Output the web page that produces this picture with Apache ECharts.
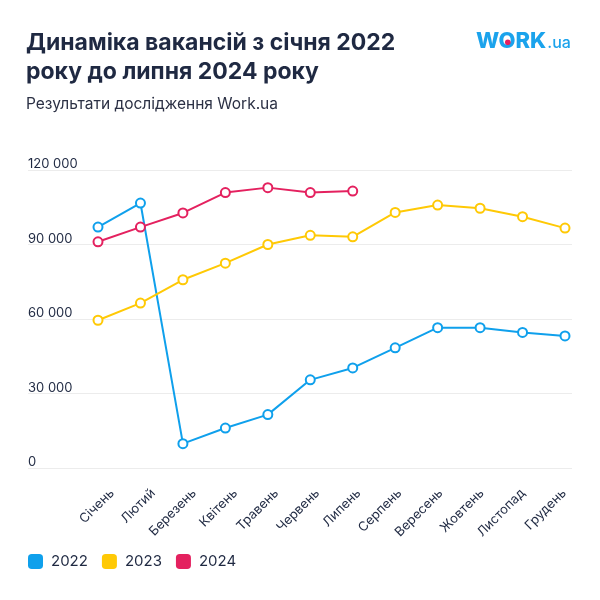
<!DOCTYPE html>
<html>
<head>
<meta charset="utf-8">
<script src="https://cdn.jsdelivr.net/npm/echarts@6/dist/echarts.min.js"></script>
<style>
html,body{margin:0;padding:0;background:#fff;}
#c{width:600px;height:600px;}
</style>
</head>
<body>
<div id="c"></div>
<script>
const months = ['Січень','Лютий','Березень','Квітень','Травень','Червень','Липень','Серпень','Вересень','Жовтень','Листопад','Грудень'];
const seriesNames = ['2022','2023','2024'];
const values2022 = [97000,106700,9800,16100,21500,35500,40300,48400,56500,56500,54600,53200];
const values2023 = [59500,66400,75800,82500,90000,93700,93100,102900,105900,104600,101200,96600];
const values2024 = [91100,97000,102700,110900,112900,110900,111500];
const colors = ['#0fa0ec','#ffc905','#e4215f'];
const yTicks = {min:0, max:120000, interval:30000};

const FONT = 'Inter';
const DARK = '#1f2942';
const chart = echarts.init(document.getElementById('c'));
const seriesData = [values2022, values2023, values2024];

function fmt(v){ return String(v).replace(/\B(?=(\d{3})+(?!\d))/g,' '); }

// locate the centre of the "O" in the logo text
const LOGO_X = 476, LOGO_FONT = '800 22px Inter';
const mctx = document.createElement('canvas').getContext('2d');
mctx.font = LOGO_FONT;
const dotX = LOGO_X + mctx.measureText('W').width + mctx.measureText('O').width / 2;

chart.setOption({
  backgroundColor:'#fff',
  animation:false,
  textStyle:{fontFamily:FONT},
  title:{
    left:26, top:29, padding:0,
    text:'Динаміка вакансій з січня 2022\nроку до липня 2024 року',
    textStyle:{fontFamily:FONT,fontSize:23,fontWeight:'bold',color:DARK,lineHeight:29},
    subtext:'Результати дослідження Work.ua',
    subtextStyle:{fontFamily:FONT,fontSize:15.5,color:'#2b3044'},
    itemGap:9
  },
  graphic:[
    {type:'text', left:LOGO_X, top:30, style:{
      rich:{a:{fontFamily:FONT,fontSize:22,fontWeight:800,fill:'#1ba3ec'},
            b:{fontFamily:FONT,fontSize:16,fontWeight:500,fill:'#1ba3ec',padding:[5,0,0,1]}},
      text:'{a|WORK}{b|.ua}'}},
    {type:'circle', shape:{cx:dotX, cy:42.2, r:2.8}, style:{fill:'#e4215f'}}
  ],
  legend:{
    left:28, top:554, padding:0, icon:'roundRect', itemWidth:15, itemHeight:15, itemGap:14,
    textStyle:{fontFamily:FONT,fontSize:15,color:DARK,padding:[0,0,0,3]},
    data:seriesNames.map((n,i)=>({name:n,itemStyle:{color:colors[i],borderWidth:0}}))
  },
  grid:[
    {left:28,right:28,top:170,bottom:132},
    {left:98,right:35,top:170,bottom:132},
    {left:112,right:36,top:170,bottom:132}
  ],
  xAxis:[
    {gridIndex:0,type:'value',show:false},
    {gridIndex:1,type:'category',boundaryGap:false,data:months,
     axisLine:{show:false},axisTick:{show:false},axisLabel:{show:false}},
    {gridIndex:2,type:'category',boundaryGap:false,data:months,
     axisLine:{show:false},axisTick:{show:false},
     axisLabel:{rotate:45,margin:23,fontFamily:FONT,fontSize:13,color:DARK}}
  ],
  yAxis:[
    {gridIndex:0,type:'value',min:yTicks.min,max:yTicks.max,interval:yTicks.interval,
     axisLine:{show:false},axisTick:{show:false},
     splitLine:{lineStyle:{color:'#ececec',width:1}},
     axisLabel:{inside:true,margin:0,verticalAlign:'bottom',align:'left',padding:0,lineHeight:11,
       fontFamily:FONT,fontSize:13,color:DARK,formatter:fmt}},
    {gridIndex:1,type:'value',min:yTicks.min,max:yTicks.max,interval:yTicks.interval,show:false,splitLine:{show:false}},
    {gridIndex:2,type:'value',min:yTicks.min,max:yTicks.max,interval:yTicks.interval,show:false,splitLine:{show:false}}
  ],
  series:seriesNames.map((n,i)=>({
    name:n,type:'line',xAxisIndex:1,yAxisIndex:1,data:seriesData[i],
    symbol:'emptyCircle',symbolSize:9,
    lineStyle:{width:2,color:colors[i]},
    itemStyle:{color:colors[i],borderWidth:2}
  }))
});
</script>
</body>
</html>
